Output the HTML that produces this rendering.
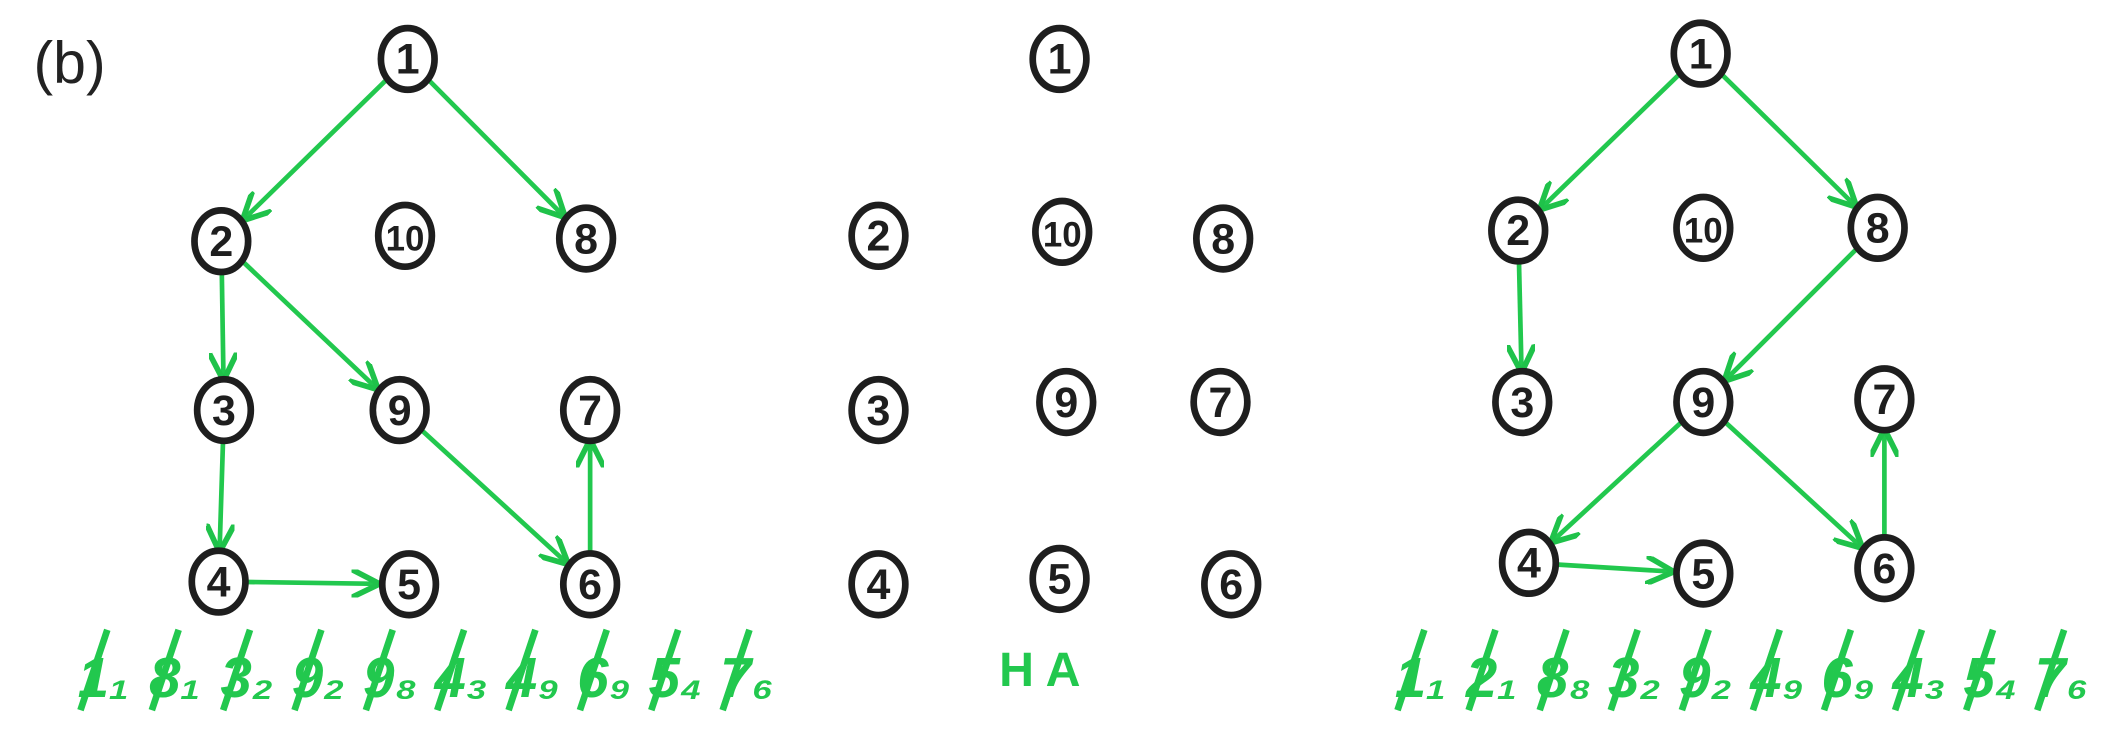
<!DOCTYPE html>
<html><head><meta charset="utf-8"><style>
html,body{margin:0;padding:0;background:#fff;}
svg{display:block}
text{font-family:"Liberation Sans",sans-serif;}
</style></head><body>
<svg id="fig" width="2103" height="729" viewBox="0 0 1568 544" preserveAspectRatio="none">
<defs>
<marker id="ah" viewBox="0 0 10 10" refX="9" refY="5" markerWidth="6" markerHeight="6" orient="auto"><path d="M0,0 L10,5 L0,10" fill="none" stroke="#1fc24a" stroke-width="2"/></marker>
</defs>
<text x="25" y="62" font-size="44" fill="#222">(b)</text>
<g id="edges"></g>
<g id="nodes"></g>
<g id="texts"></g>
</svg>
<script>
const leftNodes = {1:[304,44],2:[165,180],10:[302,176],8:[437,178],3:[167,306],9:[298,306],7:[440,306],4:[163,434],5:[305,436],6:[440,436]};
const midNodes = {1:[790,44],2:[655,176],10:[792,173],8:[912,178],3:[655,306],9:[795,300],7:[910,300],4:[655,436],5:[790,432],6:[918,436]};
const rightNodes = {1:[1268,40],2:[1132,172],10:[1270,170],8:[1400,170],3:[1135,300],9:[1270,300],7:[1405,298],4:[1140,420],5:[1270,428],6:[1405,424]};
const leftEdges = [[1,2],[1,8],[2,3],[2,9],[3,4],[4,5],[9,6],[6,7]];
const rightEdges = [[1,2],[1,8],[2,3],[8,9],[9,4],[9,6],[4,5],[6,7]];
const leftText = ["1₁","8₁","3₂","9₂","9₈","4₃","4₉","6₉","5₄","7₆"];
const rightText = ["1₁","2₁","8₈","3₂","9₂","4₉","6₉","4₃","5₄","7₆"];
const NS="http://www.w3.org/2000/svg";
const R=22;
const eg=document.getElementById('edges'), ng=document.getElementById('nodes'), tg=document.getElementById('texts');
function drawEdges(nodes, edges){
  edges.forEach(([a,b])=>{
    const [x1,y1]=nodes[a],[x2,y2]=nodes[b];
    const dx=x2-x1,dy=y2-y1,d=Math.hypot(dx,dy);
    const l=document.createElementNS(NS,'line');
    l.setAttribute('x1',x1+dx/d*R);l.setAttribute('y1',y1+dy/d*R);
    l.setAttribute('x2',x2-dx/d*(R+2));l.setAttribute('y2',y2-dy/d*(R+2));
    l.setAttribute('stroke','#22c84e');l.setAttribute('stroke-width','3.5');
    l.setAttribute('marker-end','url(#ah)');
    
    
    eg.appendChild(l);
  });
}
function drawNodes(nodes){
  Object.keys(nodes).forEach(k=>{
    const [x,y]=nodes[k];
    const g=document.createElementNS(NS,'g');
    
    
    const c=document.createElementNS(NS,'ellipse');
    c.setAttribute('cx',x);c.setAttribute('cy',y);c.setAttribute('rx',R-2);c.setAttribute('ry',R+1);
    c.setAttribute('fill','#fff');c.setAttribute('stroke','#1e1e1e');c.setAttribute('stroke-width','5');
    g.appendChild(c);
    const t=document.createElementNS(NS,'text');
    t.setAttribute('x',x);t.setAttribute('y',y+11);t.setAttribute('text-anchor','middle');
    t.setAttribute('font-size',k==='10'?'26':'32');t.setAttribute('font-weight','bold');t.setAttribute('fill','#1e1e1e');
    t.textContent=k;
    g.appendChild(t);
    ng.appendChild(g);
  });
}
function drawText(items,x0,x1){
  const step=(x1-x0)/items.length;
  items.forEach((s,i)=>{
    const t=document.createElementNS(NS,'text');
    t.setAttribute('x',x0+i*step);t.setAttribute('y',520);
    t.setAttribute('font-size','42');t.setAttribute('font-weight','bold');t.setAttribute('fill','#22c84e');t.setAttribute('font-style','italic');
    t.textContent=s;
    
    
    tg.appendChild(t);
    const l=document.createElementNS(NS,'line');
    const bx=x0+i*step;
    l.setAttribute('x1',bx+2);l.setAttribute('y1',530);l.setAttribute('x2',bx+22);l.setAttribute('y2',470);
    l.setAttribute('stroke','#22c84e');l.setAttribute('stroke-width','5');
    
    
    tg.appendChild(l);
  });
}
drawEdges(leftNodes,leftEdges);
drawEdges(rightNodes,rightEdges);
drawNodes(leftNodes);drawNodes(midNodes);drawNodes(rightNodes);
drawText(leftText,58,590);
drawText(rightText,1040,1570);
const ha=document.createElementNS(NS,'text');
ha.setAttribute('x',745);ha.setAttribute('y',512);ha.setAttribute('font-size','36');ha.setAttribute('font-weight','bold');ha.setAttribute('fill','#22c84e');
ha.textContent='H A';


tg.appendChild(ha);
</script>
</body></html>
